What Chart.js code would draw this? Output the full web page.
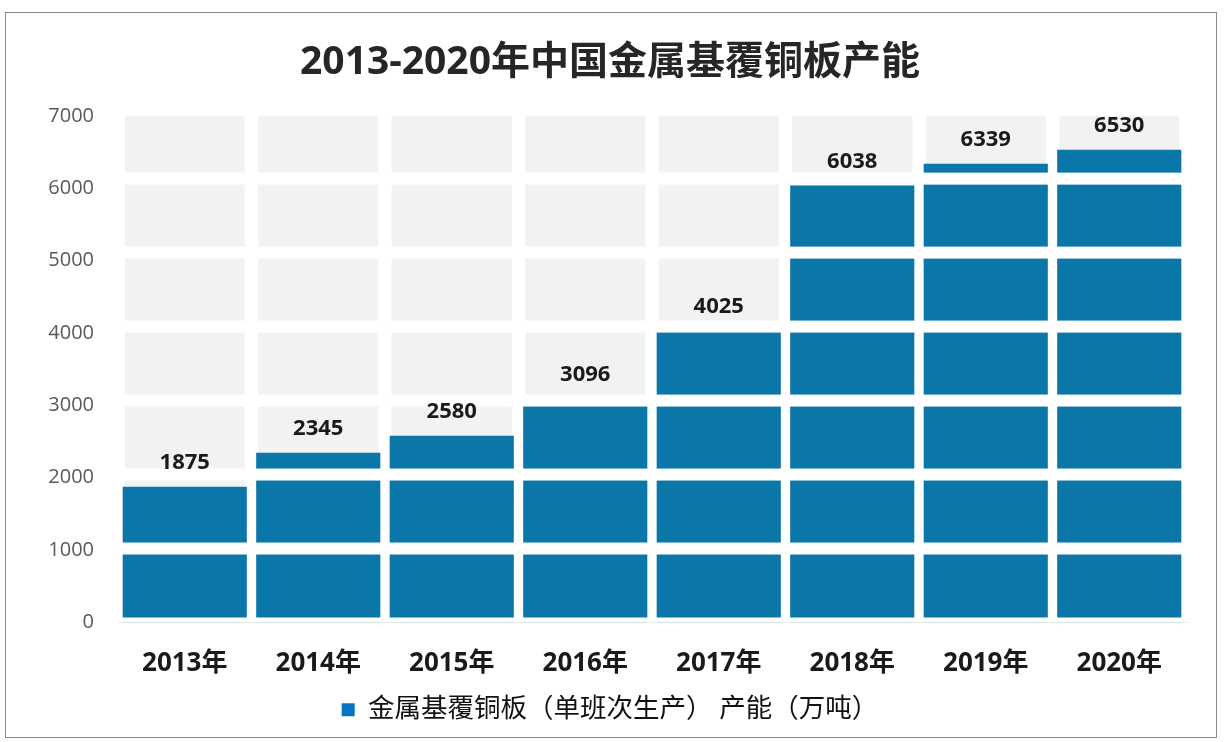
<!DOCTYPE html>
<html>
<head>
<meta charset="utf-8">
<script src="https://cdn.jsdelivr.net/npm/chart.js@4"></script>
<style>
    body { margin: 0; background: #fff; }
    #wrap { position: relative; width: 1228px; height: 742px; }
    #frame {
        position: absolute; left: 5px; top: 12px; width: 1212px; height: 726px;
        box-sizing: border-box; border: 1px solid #8a8a8a; pointer-events: none;
    }
</style>
</head>
<body>
<div id="wrap">
    <canvas id="capacity_chart" width="1228" height="742"></canvas>
    <div id="frame"></div>
</div>
<script>
const years    = ['2013年', '2014年', '2015年', '2016年', '2017年', '2018年', '2019年', '2020年'];
const capacity = [1875, 2345, 2580, 3096, 4025, 6038, 6339, 6530];
const backdrop = [7000, 7000, 7000, 7000, 7000, 7000, 7000, 7000];
const seriesName = '金属基覆铜板（单班次生产） 产能（万吨）';
const titleText  = '2013-2020年中国金属基覆铜板产能';

const fontFamily = "'Open Sans', 'Noto Sans CJK SC', sans-serif";
const barBlue    = 'rgb(11, 119, 168)';
const tileScale  = 1.022; // picture tiles drift a little above each 1000 line

const ctx = document.getElementById('capacity_chart');

// white strips between the stacked picture tiles, then value labels
const tilePlugin = {
    id: 'tiles',
    afterDatasetsDraw(chart) {
        const area = chart.chartArea;
        const y = chart.scales.y;
        const c = chart.ctx;
        c.save();
        c.fillStyle = '#ffffff';
        y.ticks.forEach(t => {
            if (t.value <= 0 || t.value >= 7000) return;
            var py = y.getPixelForValue(t.value * tileScale);
            c.fillRect(area.left, py - 6, area.right - area.left, 12);
        });
        var base = y.getPixelForValue(0);
        c.fillRect(area.left, base - 5, area.right - area.left, 5);

        c.fillStyle = '#1a1a1a';
        c.font = 'bold 22px ' + fontFamily;
        c.textAlign = 'center';
        c.textBaseline = 'middle';
        chart.getDatasetMeta(0).data.forEach((bar, i) => {
            c.fillText(String(capacity[i]), bar.x, bar.y - 24);
        });
        c.restore();
    }
};

let data = {
    labels: years,
    datasets: [{
        label: seriesName,
        data: capacity,
        backgroundColor: barBlue,
        barPercentage: 0.93,
        categoryPercentage: 1.0,
        grouped: false
    }, {
        label: 'backdrop',
        data: backdrop,
        backgroundColor: '#f2f2f2',
        barPercentage: 0.9,
        categoryPercentage: 1.0,
        grouped: false
    }]
};

let config = {
    type: 'bar',
    data: data,
    plugins: [tilePlugin],
    options: {
        responsive: false,
        animation: false,
        layout: {
            padding: { left: 34, right: 42, top: 0, bottom: 9 }
        },
        plugins: {
            tooltip: { enabled: false },
            title: {
                display: true,
                text: titleText,
                color: '#262626',
                font: { family: fontFamily, size: 39, weight: 'bold' },
                padding: { top: 39, bottom: 30 }
            },
            legend: {
                display: true,
                position: 'bottom',
                labels: {
                    color: '#111111',
                    font: { family: fontFamily, size: 26.5 },
                    boxWidth: 13,
                    boxHeight: 13,
                    padding: 10,
                    filter: item => item.datasetIndex === 0,
                    generateLabels: chart => {
                        return Chart.defaults.plugins.legend.labels.generateLabels(chart).map(l => {
                            l.fillStyle = '#0a72c2';
                            l.strokeStyle = '#0a72c2';
                            l.lineWidth = 0;
                            return l;
                        });
                    }
                }
            }
        },
        scales: {
            x: {
                grid: { display: false, drawTicks: false },
                border: { display: true, color: '#d9d9d9', width: 1 },
                ticks: {
                    color: '#1a1a1a',
                    font: { family: fontFamily, size: 26, weight: 'bold' },
                    padding: 25
                },
                afterFit: scale => { scale.height = 64; }
            },
            y: {
                min: 0,
                max: 7000,
                grid: { display: false, drawTicks: false },
                border: { display: false },
                ticks: {
                    stepSize: 1000,
                    color: '#595959',
                    font: { family: fontFamily, size: 20 },
                    padding: 24,
                    callback: v => String(v)
                },
                afterFit: scale => { scale.width = 84; }
            }
        }
    }
};

const chart = new Chart(ctx, config);
</script>
</body>
</html>
